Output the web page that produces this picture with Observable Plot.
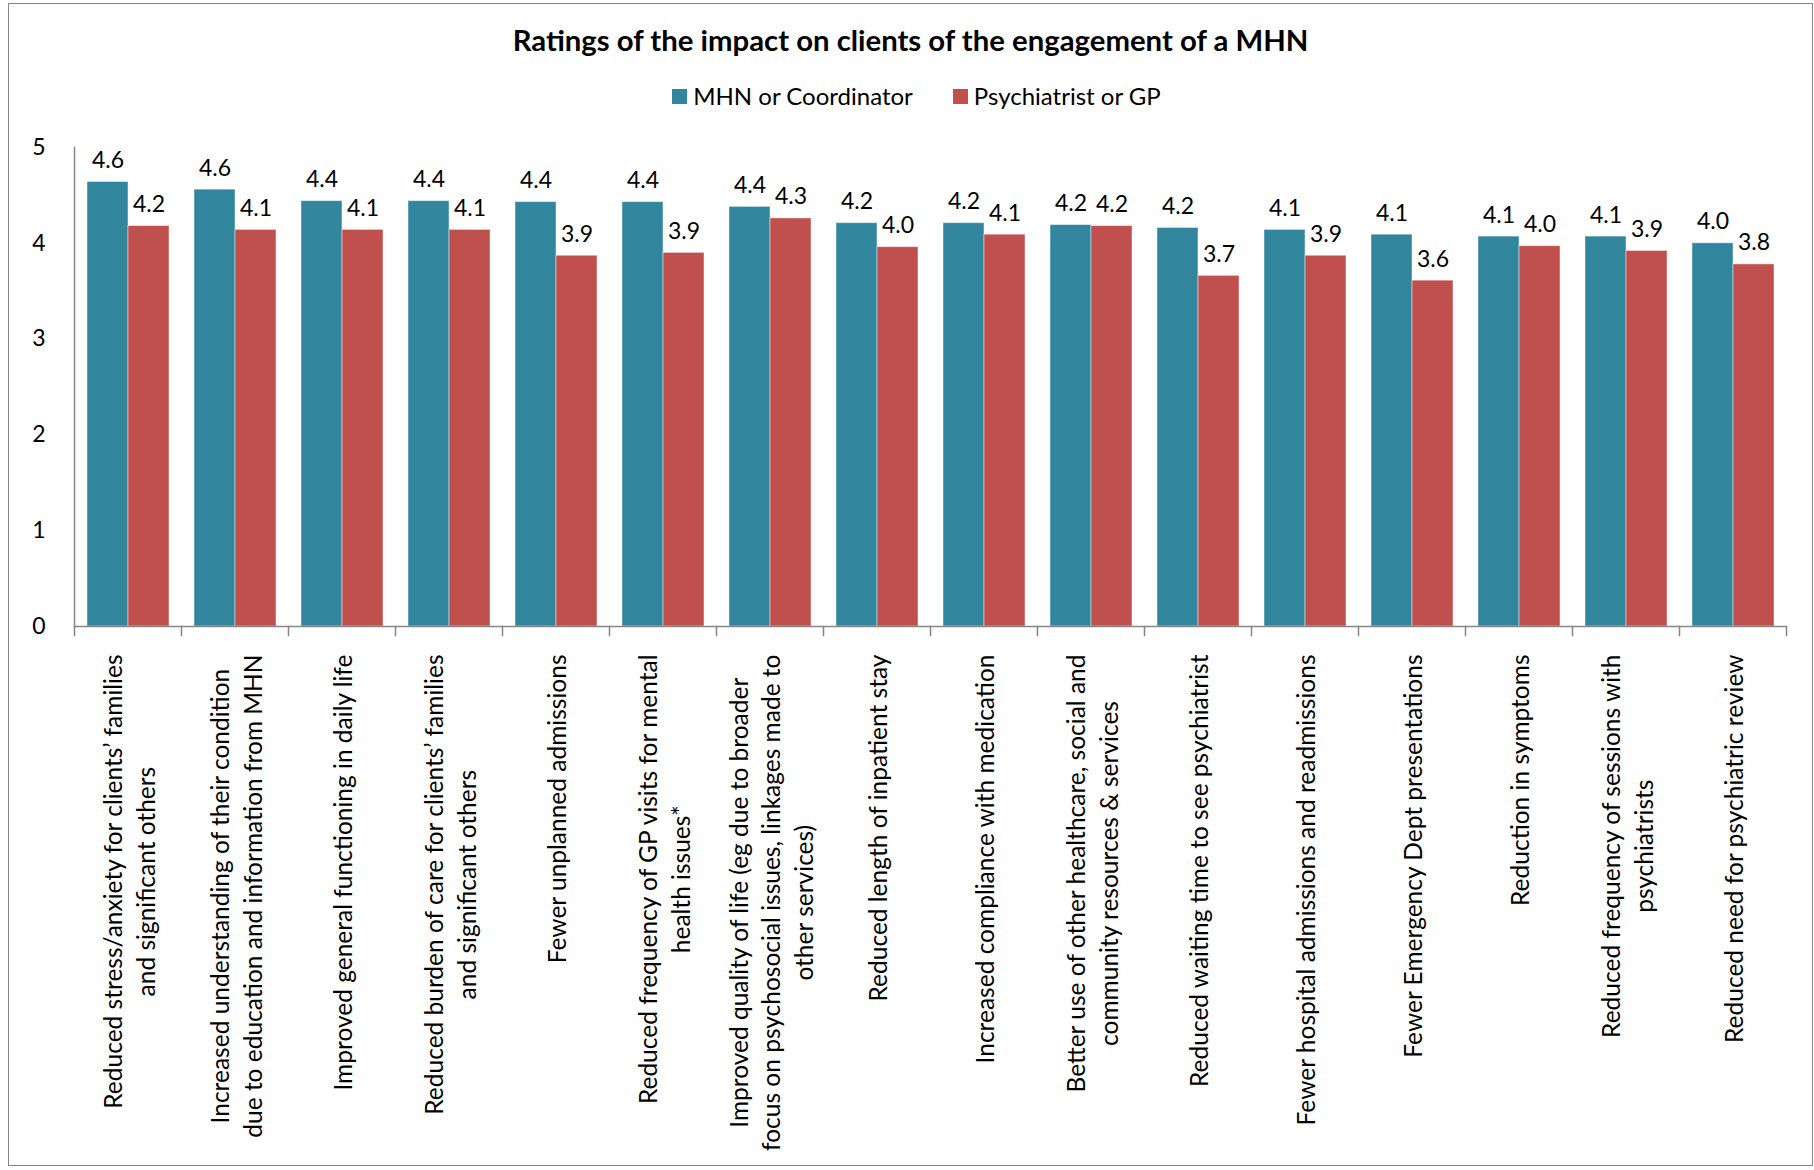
<!DOCTYPE html>
<html>
<head>
<meta charset="utf-8">
<script src="https://cdn.jsdelivr.net/npm/d3@7"></script>
<script src="https://cdn.jsdelivr.net/npm/@observablehq/plot@0.6"></script>
<style>
  html, body { margin: 0; padding: 0; background: #fff; }
  body { width: 1814px; height: 1170px; position: relative; overflow: hidden; font-family: Lato, "Open Sans", sans-serif; color: #000; }
  #border { position: absolute; left: 8px; top: 3px; width: 1805px; height: 1163px; border: 1px solid #868686; box-sizing: border-box; }
  #title { position: absolute; left: 8px; width: 1805px; top: 25px; text-align: center; font-weight: 700; font-size: 29.3px; line-height: 29px; white-space: nowrap; }
  #legend { position: absolute; left: 14px; width: 1805px; top: 84px; display: flex; justify-content: center; gap: 40px; font-size: 24px; line-height: 24px; }
  .item { display: flex; align-items: center; gap: 6px; }
  .swatch { width: 15px; height: 15px; display: inline-block; }
  #chart { position: absolute; left: 0; top: 120px; }
</style>
</head>
<body>
<div id="border"></div>
<div id="title"></div>
<div id="legend"></div>
<div id="chart"></div>
<script>
const titleText = "Ratings of the impact on clients of the engagement of a MHN";

const categories = [
  "Reduced stress/anxiety for clients’ families\nand significant others",
  "Increased understanding of their condition\ndue to education and information from MHN",
  "Improved general functioning in daily life",
  "Reduced burden of care for clients’ families\nand significant others",
  "Fewer unplanned admissions",
  "Reduced frequency of GP visits for mental\nhealth issues*",
  "Improved quality of life (eg due to broader\nfocus on psychosocial issues, linkages made to\nother services)",
  "Reduced length of inpatient stay",
  "Increased compliance with medication",
  "Better use of other healthcare, social and\ncommunity resources & services",
  "Reduced waiting time to see psychiatrist",
  "Fewer hospital admissions and readmissions",
  "Fewer Emergency Dept presentations",
  "Reduction in symptoms",
  "Reduced frequency of sessions with\npsychiatrists",
  "Reduced need for psychiatric review"
];

const seriesNames = ["MHN or Coordinator", "Psychiatrist or GP"];
const seriesColors = ["#31859C", "#C0504D"];

const mhnValues = [4.64, 4.56, 4.44, 4.44, 4.43, 4.43, 4.38, 4.21, 4.21, 4.19, 4.16, 4.14, 4.09, 4.07, 4.07, 4.00];
const gpValues  = [4.18, 4.14, 4.14, 4.14, 3.87, 3.90, 4.26, 3.96, 4.09, 4.18, 3.66, 3.87, 3.61, 3.97, 3.92, 3.78];

const yTicks = [0, 1, 2, 3, 4, 5];

// Title and legend (HTML, above the SVG)
document.getElementById("title").textContent = titleText;
const legend = d3.select("#legend");
seriesNames.forEach((name, i) => {
  const it = legend.append("div").attr("class", "item");
  it.append("span").attr("class", "swatch").style("background", seriesColors[i]);
  it.append("span").text(name);
});

const data = categories.flatMap((c, i) => [
  {category: c, series: seriesNames[0], value: mhnValues[i]},
  {category: c, series: seriesNames[1], value: gpValues[i]}
]);

const W = 1814, H = 1040, MT = 27, MB = 534;
const innerH = H - MT - MB;
const axisColor = "#868686";

const chart = Plot.plot({
  width: W,
  height: H,
  marginLeft: 70,
  marginRight: 25,
  marginTop: MT,
  marginBottom: MB,
  style: {fontFamily: "Lato, 'Open Sans', sans-serif", color: "#000", background: "transparent", overflow: "visible"},
  fx: {domain: categories, padding: 0, label: null},
  x: {domain: seriesNames, paddingInner: 0, paddingOuter: 0.3, axis: null},
  y: {domain: [0, 5], label: null},
  color: {domain: seriesNames, range: seriesColors},
  marks: [
    Plot.barY(data, {fx: "category", x: "series", y: "value", fill: "series", stroke: "#ffffff", strokeOpacity: 0.45, strokeWidth: 1}),
    Plot.text(data, {fx: "category", x: "series", y: "value", text: d => d.value.toFixed(1), lineAnchor: "bottom", dy: -14, fontSize: 23, fill: "#000"}),
    Plot.ruleY([0], {stroke: axisColor, strokeWidth: 1.5}),
    Plot.frame({anchor: "left", stroke: axisColor, strokeWidth: 1.5, insetTop: innerH, insetBottom: -9}),
    Plot.frame({anchor: "right", stroke: axisColor, strokeWidth: 1.5, insetTop: innerH, insetBottom: -9, fx: [categories[categories.length - 1]]}),
    Plot.frame({anchor: "left", stroke: axisColor, strokeWidth: 1.5, fx: [categories[0]]}),
    Plot.axisY({ticks: yTicks, tickSize: 0, tickPadding: 29, fontSize: 23, tickFormat: d => String(d), label: null}),
    Plot.axisFx({anchor: "bottom", tickSize: 0, tickPadding: 28, tickRotate: -90, textAnchor: "end", lineAnchor: "middle", fontSize: 24.5, lineHeight: 1.33, label: null})
  ]
});

document.getElementById("chart").append(chart);

// Centre the lines of each multi-line category label on one another
chart.querySelectorAll("text").forEach(t => {
  const spans = Array.from(t.querySelectorAll("tspan"));
  if (spans.length < 2) return;
  const widths = spans.map(s => s.getComputedTextLength());
  const maxW = Math.max(...widths);
  spans.forEach((s, i) => s.setAttribute("x", -(maxW - widths[i]) / 2));
});
</script>
</body>
</html>
